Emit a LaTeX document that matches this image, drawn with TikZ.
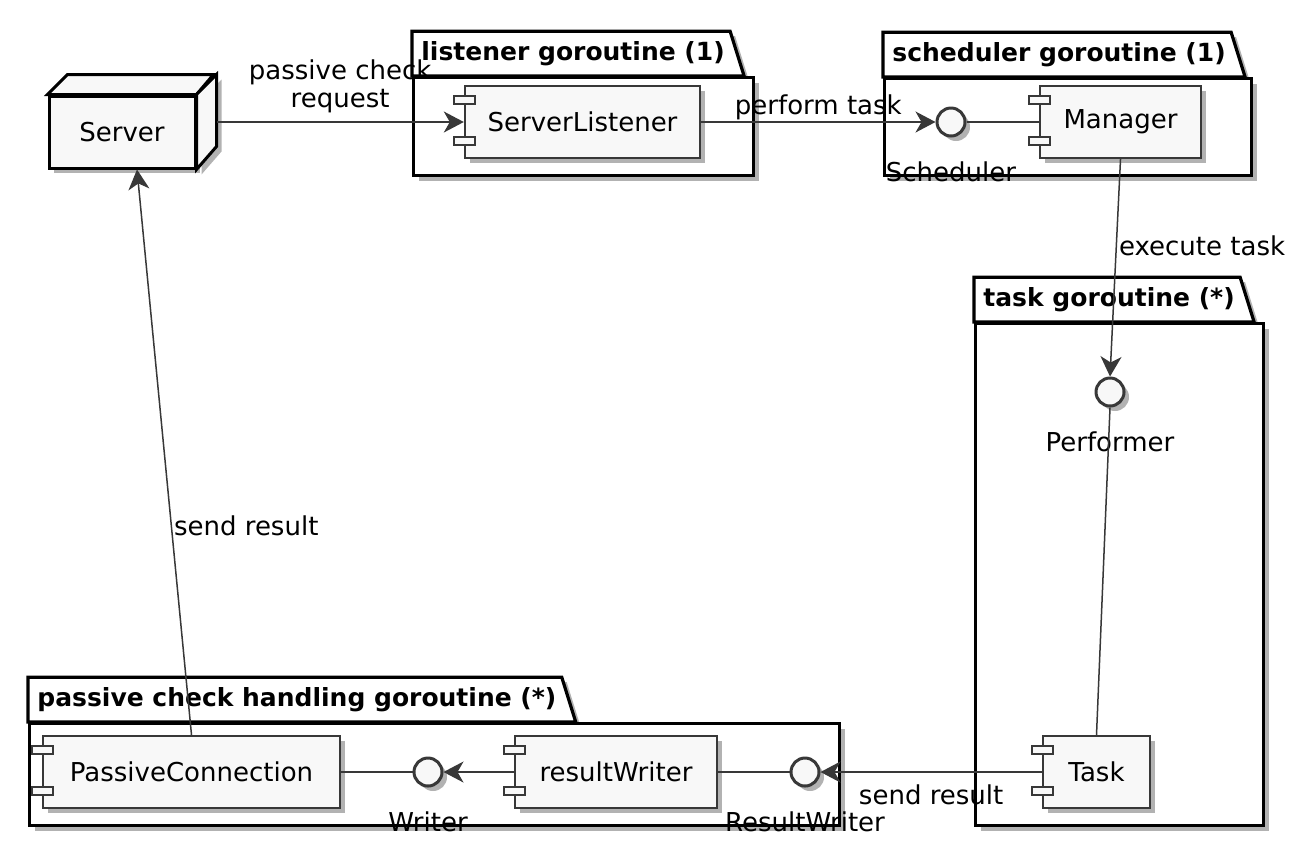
\documentclass[tikz,border=0pt]{standalone}
\usepackage{fontspec}
\setmainfont{DejaVu Sans}
\usetikzlibrary{calc,positioning,shadows,arrows.meta,backgrounds}

\definecolor{umlline}{HTML}{383838}
\definecolor{umlfill}{HTML}{F8F8F8}

\tikzset{
  umlshadow/.style={drop shadow={shadow xshift=2.5pt,shadow yshift=-2.5pt,opacity=.3,fill=black}},
  comp/.style={draw=umlline,fill=umlfill,line width=1.2pt,inner sep=0pt,minimum height=36pt,umlshadow},
  portbox/.style={draw=umlline,fill=umlfill,line width=1.2pt},
  srvbox/.style={draw=black,fill=umlfill,line width=1.5pt,inner sep=0pt,minimum height=36pt},
  iface/.style={circle,draw=umlline,fill=umlfill,line width=1.5pt,minimum size=14pt,inner sep=0pt,umlshadow},
  iflbl/.style={inner sep=0pt},
  pkgbody/.style={draw=black,fill=white,line width=1.6pt,inner sep=0pt,anchor=north west,umlshadow},
  pkgtab/.style={draw=black,fill=white,line width=1.6pt,umlshadow},
  pkgtitle/.style={font=\fontsize{12.5}{14}\selectfont\bfseries,anchor=south west,minimum height=22pt,inner sep=0pt},
  flow/.style={draw=umlline,line width=.75pt,-{Stealth[length=10pt,width=10.5pt,inset=3pt]}},
  link/.style={draw=umlline,line width=.75pt}
}

\begin{document}
\begin{tikzpicture}[x=0.5pt,y=-0.5pt,font=\fontsize{13}{14}\selectfont]
    \useasboundingbox (0,0) rectangle (1304,858);

    %listener goroutine
    \node[pkgtitle] (lsttitle) at (421,76) {listener goroutine (1)};
    \begin{scope}[on background layer]
        \draw[pkgtab] (412,76) |- ($(lsttitle.north east)+(5,0)$) -- ($(lsttitle.south east)+(19,0)$) -- cycle;
        \node[pkgbody,minimum width=170pt,minimum height=49pt] (lstpkg) at (412,76) {};
    \end{scope}

    %scheduler goroutine
    \node[pkgtitle] (schtitle) at (892,77) {scheduler goroutine (1)};
    \begin{scope}[on background layer]
        \draw[pkgtab] (883,77) |- ($(schtitle.north east)+(5,0)$) -- ($(schtitle.south east)+(19,0)$) -- cycle;
        \node[pkgbody,minimum width=183.5pt,minimum height=48.5pt] (schpkg) at (883,77) {};
    \end{scope}

    %task goroutine
    \node[pkgtitle] (tsktitle) at (983,322) {task goroutine (*)};
    \begin{scope}[on background layer]
        \draw[pkgtab] (974,322) |- ($(tsktitle.north east)+(5,0)$) -- ($(tsktitle.south east)+(19,0)$) -- cycle;
        \node[pkgbody,minimum width=144pt,minimum height=251pt] (tskpkg) at (974,322) {};
    \end{scope}

    %passive check handling goroutine
    \node[pkgtitle] (pastitle) at (37,722) {passive check handling goroutine (*)};
    \begin{scope}[on background layer]
        \draw[pkgtab] (28,722) |- ($(pastitle.north east)+(5,0)$) -- ($(pastitle.south east)+(19,0)$) -- cycle;
        \node[pkgbody,minimum width=405pt,minimum height=51pt] (paspkg) at (28,722) {};
    \end{scope}

    %server node
    \node[srvbox,minimum width=73pt,umlshadow] (server) at (122,132) {Server};
    \draw[srvbox] (server.north west) -- ++(20,-20) -- ++(146,0) -- (server.north east) -- cycle;
    \draw[srvbox,umlshadow] (server.north east) -- ++(20,-20) -- ++(0,72) -- (server.south east) -- cycle;

    %components
    \node[comp,minimum width=117.5pt] (srvlst) at (582.5,122) {ServerListener};
    \node[comp,minimum width=80.5pt] (mgr) at (1120.5,122) {Manager};
    \node[comp,minimum width=53.5pt] (task) at (1096.5,772) {Task};
    \node[comp,minimum width=148.5pt] (pconn) at (191.5,772) {PassiveConnection};
    \node[comp,minimum width=101pt] (rwriter) at (616,772) {resultWriter};
    \foreach \c in {srvlst,mgr,task,pconn,rwriter} {
        \draw[portbox] ($(\c.west)+(-10,-26)$) rectangle ++(21,8);
        \draw[portbox] ($(\c.west)+(-10,15)$) rectangle ++(21,8);
    }

    %interfaces
    \node[iface] (sched) at (951,122) {};
    \node[iflbl,below=12pt of sched] (schedlbl) {Scheduler};
    \node[iface] (perf) at (1110,392) {};
    \node[iflbl,below=12pt of perf] (perflbl) {Performer};
    \node[iface] (writer) at (428,772) {};
    \node[iflbl,below=12pt of writer] (writerlbl) {Writer};
    \node[iface] (reswr) at (805,772) {};
    \node[iflbl,below=12pt of reswr] (reswrlbl) {ResultWriter};

    %connectors
    \coordinate (srvside) at ($(server.east)+(20,-10)$);
    \draw[flow] (srvside) -- node[above,align=center,inner sep=4pt] (reqlbl) {passive check\\request} (srvlst.west);
    \draw[flow] (srvlst.east) -- node[above,inner sep=.5pt] (tasklbl) {perform task} (sched.west);
    \draw[link] (sched.east) -- (mgr.west);
    \draw[flow] (mgr.south) -- node[pos=.4,right,inner sep=1pt] (execlbl) {execute task} (perf.north);
    \draw[link] (perf.south) -- (task.north);
    \draw[flow] (task.west) -- node[below=6pt,inner sep=0pt] (sendlbl) {send result} (reswr.east);
    \draw[link] (rwriter.east) -- (reswr.west);
    \draw[flow] (rwriter.west) -- (writer.east);
    \draw[link] (pconn.east) -- (writer.west);
    \draw[flow] (pconn.north) -- node[pos=.37,right=1pt,inner sep=0pt] (backlbl) {send result} ([xshift=7.5pt]server.south);
\end{tikzpicture}
\end{document}
